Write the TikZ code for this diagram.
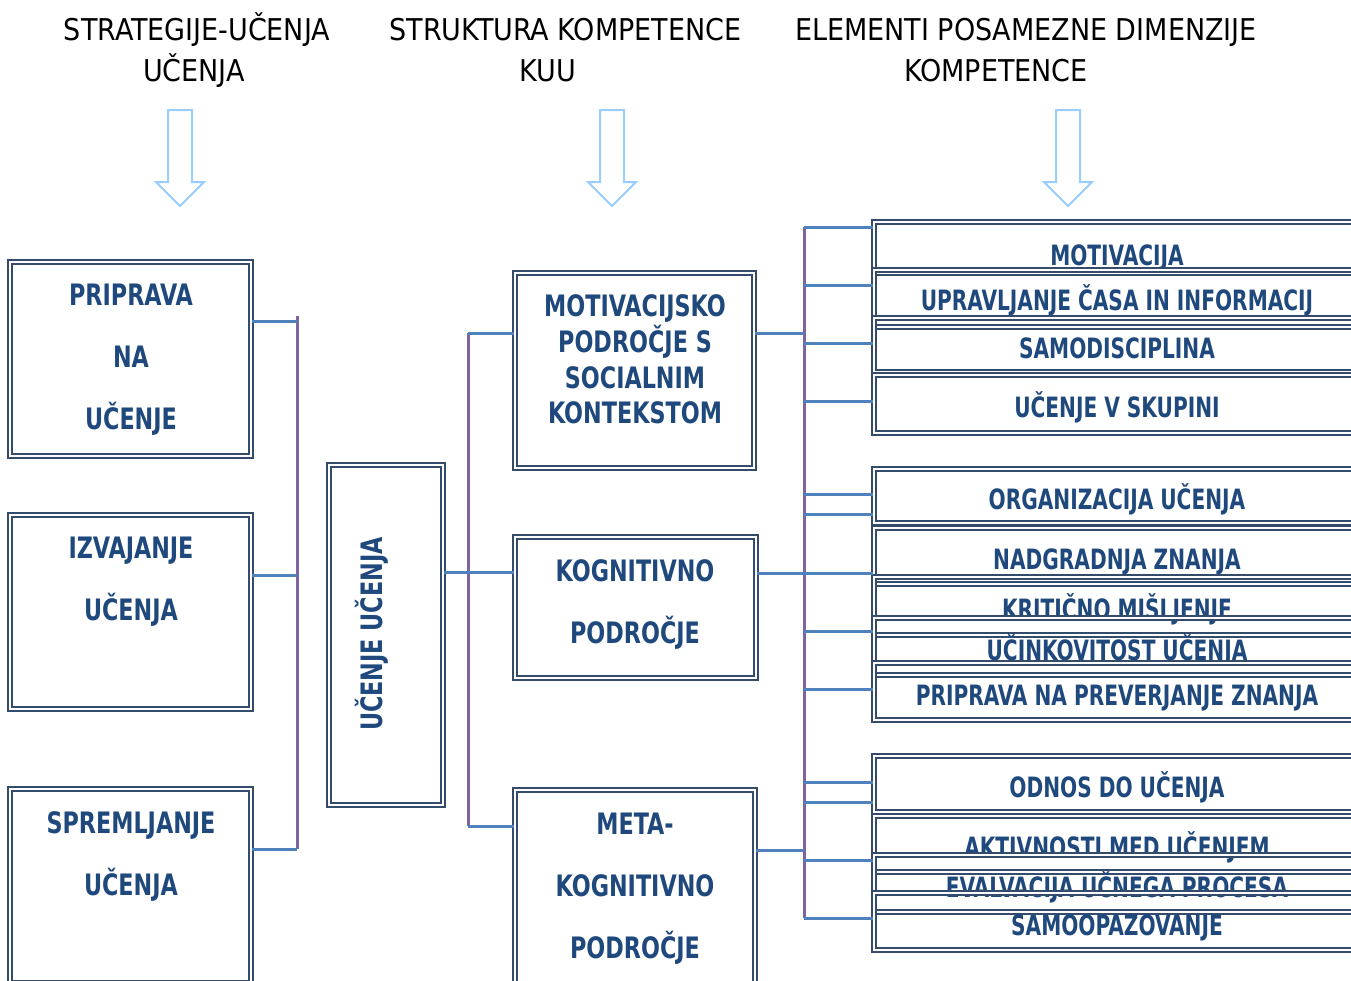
\documentclass[tikz,border=0pt]{standalone}
\usepackage{fontspec}
\setmainfont{DejaVu Sans Condensed}
\newfontfamily\boxfont[FakeStretch=0.8]{DejaVu Sans Condensed Bold}
\newfontfamily\bigboxfont[FakeStretch=0.84]{DejaVu Sans Condensed Bold}
\usepackage{tikz}
\usetikzlibrary{positioning,calc}
\definecolor{boxblue}{RGB}{52,75,108}
\definecolor{txtblue}{RGB}{31,73,125}
\definecolor{linkblue}{RGB}{79,129,189}
\definecolor{buspurple}{RGB}{128,100,162}
\definecolor{arrowblue}{RGB}{153,204,255}
\begin{document}
\begin{tikzpicture}[
  x=1pt,y=-1pt,
  head/.style={font=\fontsize{30}{36}\selectfont,inner sep=0pt,text height=21.9pt,text depth=0pt},
  dbox/.style={draw=boxblue,double=white,double distance=1.6pt,line width=2pt,inner sep=0pt,rectangle},
  lbox/.style={dbox,minimum width=241pt,minimum height=194pt},
  rbox/.style={dbox,minimum width=486pt,font=\boxfont\fontsize{28}{34}\selectfont,text=txtblue,
    text height=27.4pt,text depth=0pt},
  btxt/.style={font=\bigboxfont\fontsize{29.5}{62}\selectfont,text=txtblue,align=center,inner sep=0pt},
  link/.style={linkblue,line width=3pt},
  bus/.style={buspurple,line width=3pt},
  hollowarr/.style={arrowblue,line width=2pt,line join=miter}
]
  \clip (0,0) rectangle (1351,980);
  % Headings
  \node[head] (h1a) at (197,30) {STRATEGIJE-UČENJA};
  \node[head] (h1b) at (194,71) {UČENJA};
  \node[head] (h2a) at (565.5,30) {STRUKTURA KOMPETENCE};
  \node[head] (h2b) at (548,71) {KUU};
  \node[head] (h3a) at (1026,30) {ELEMENTI POSAMEZNE DIMENZIJE};
  \node[head] (h3b) at (996,71) {KOMPETENCE};
  % Down arrows
  \foreach \ax in {180,612,1068}
    \draw[hollowarr] ({\ax-12},110) -- ({\ax+12},110) -- ({\ax+12},182) -- ({\ax+24},182)
      -- (\ax,206) -- ({\ax-24},182) -- ({\ax-12},182) -- cycle;
  % Strategies
  \node[lbox] (prip) at (130.5,359) {};
  \node[lbox] (izv) at (130.5,612) {};
  \node[lbox] (spr) at (130.5,886) {};
  \node[btxt] (prip-t) at (131,359.5) {PRIPRAVA\\NA\\UČENJE};
  \node[btxt] (izv-t) at (131,581.5) {IZVAJANJE\\UČENJA};
  \node[btxt] (spr-t) at (131,856) {SPREMLJANJE\\UČENJA};
  % Learning to learn
  \node[dbox,minimum width=114pt,minimum height=340pt] (uu) at (386,635) {};
  \node[btxt,rotate=90,text height=21.5pt,text depth=0pt] (uu-t) at (372,634) {UČENJE UČENJA};
  % Competence structure
  \node[dbox,minimum width=239pt,minimum height=195pt] (motv) at (634.5,370.5) {};
  \node[dbox,minimum width=241pt,minimum height=141pt] (kog) at (635.5,607.5) {};
  \node[dbox,minimum width=240pt,minimum height=195pt] (meta) at (635,887.5) {};
  \node[btxt,font=\bigboxfont\fontsize{29.5}{35.7}\selectfont] (motv-t) at (635,359.5)
    {MOTIVACIJSKO\\PODROČJE S\\SOCIALNIM\\KONTEKSTOM};
  \node[btxt] (kog-t) at (635,604) {KOGNITIVNO\\PODROČJE};
  \node[btxt] (meta-t) at (635,888.5) {META-\\KOGNITIVNO\\PODROČJE};
  % Elements
  \node[rbox,minimum height=51pt,text height=35.4pt] (r1) at (1117,247.5) {MOTIVACIJA};
  \node[rbox,minimum height=57pt,text height=23.4pt] (r2) at (1117,298.5) {UPRAVLJANJE ČASA IN INFORMACIJ};
  \node[rbox,minimum height=54pt] (r3) at (1117,345) {SAMODISCIPLINA};
  \node[rbox,minimum height=58pt] (r4) at (1117,404) {UČENJE V SKUPINI};
  \node[rbox,minimum height=54pt] (r5) at (1117,496) {ORGANIZACIJA UČENJA};
  \node[rbox,minimum height=56pt] (r6) at (1117,556) {NADGRADNJA ZNANJA};
  \node[rbox,minimum height=58pt] (r7) at (1117,606) {KRITIČNO MIŠLJENJE};
  \node[rbox,minimum height=57pt] (r8) at (1117,646.5) {UČINKOVITOST UČENJA};
  \node[rbox,minimum height=57pt] (r9) at (1117,691.5) {PRIPRAVA NA PREVERJANJE ZNANJA};
  \node[rbox,minimum height=56pt] (r10) at (1117,784) {ODNOS DO UČENJA};
  \node[rbox,minimum height=56pt] (r11) at (1117,844) {AKTIVNOSTI MED UČENJEM};
  \node[rbox,minimum height=57pt] (r12) at (1117,883.5) {EVALVACIJA UČNEGA PROCESA};
  \node[rbox,minimum height=57pt] (r13) at (1117,921.5) {SAMOOPAZOVANJE};
  % Buses
  \coordinate (bl1) at (297,316);
  \coordinate (bl2) at (297,849);
  \coordinate (bm1) at (468,333);
  \coordinate (bm2) at (468,826);
  \coordinate (br1) at (804,227);
  \coordinate (br2) at (804,918);
  \draw[bus] (bl1) -- (bl2);
  \draw[bus] (bm1) -- (bm2);
  \draw[bus] (br1) -- (br2);
  % Links left
  \draw[link] (prip.east |- 0,321) -- (bl1 |- 0,321);
  \draw[link] (izv.east |- 0,575) -- (bl1 |- 0,575);
  \draw[link] (spr.east |- 0,849) -- (bl2);
  % Links middle
  \draw[link] (uu.east |- 0,572) -- (kog.west |- 0,572);
  \draw[link] (bm1) -- (motv.west |- bm1);
  \draw[link] (bm2) -- (meta.west |- bm2);
  % Links right
  \draw[link] (motv.east |- 0,333) -- (br1 |- 0,333);
  \draw[link] (kog.east |- 0,573) -- (r6.west |- 0,573);
  \draw[link] (meta.east |- 0,850) -- (br1 |- 0,850);
  \draw[link] (br1) -- (r1.west |- br1);
  \draw[link] (br1 |- 0,285) -- (r2.west |- 0,285);
  \draw[link] (br1 |- 0,343) -- (r3.west |- 0,343);
  \draw[link] (br1 |- 0,401) -- (r4.west |- 0,401);
  \draw[link] (br1 |- 0,494) -- (r5.west |- 0,494);
  \draw[link] (br1 |- 0,514) -- (r5.west |- 0,514);
  \draw[link] (br1 |- 0,631) -- (r7.west |- 0,631);
  \draw[link] (br1 |- 0,689) -- (r9.west |- 0,689);
  \draw[link] (br1 |- 0,782) -- (r10.west |- 0,782);
  \draw[link] (br1 |- 0,802) -- (r10.west |- 0,802);
  \draw[link] (br1 |- 0,860) -- (r12.west |- 0,860);
  \draw[link] (br2) -- (r13.west |- br2);
\end{tikzpicture}
\end{document}
